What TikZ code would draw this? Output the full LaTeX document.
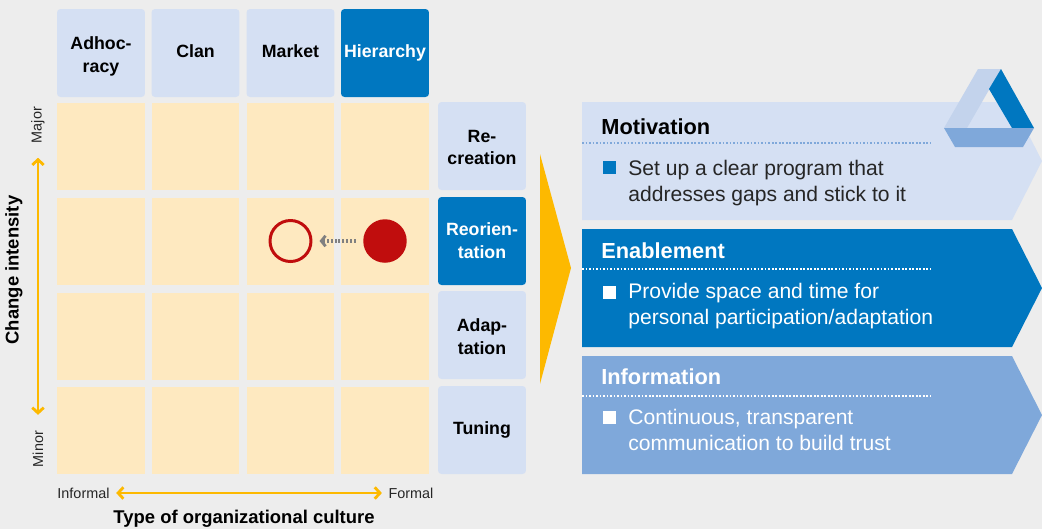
\documentclass[tikz,border=0pt]{standalone}
\usepackage{fontspec}
\setmainfont{Liberation Sans}
\usetikzlibrary{arrows.meta}

\definecolor{pagegray}{HTML}{EDEDED}
\definecolor{paleblue}{HTML}{D5E0F3}
\definecolor{midblue}{HTML}{7FA8DA}
\definecolor{darkblue}{HTML}{0077C0}
\definecolor{logoblue}{HTML}{C3D3EC}
\definecolor{cellyellow}{HTML}{FEE9C0}
\definecolor{axisyellow}{HTML}{FDB900}
\definecolor{markred}{HTML}{C00D0D}

\begin{document}
\begin{tikzpicture}[x=0.02cm, y=-0.02cm]
    \tikzstyle{cell}=[fill=cellyellow, minimum width=1.76cm, minimum height=1.74cm, inner sep=0pt]
    \tikzstyle{head}=[fill=paleblue, rounded corners=2pt, minimum width=1.76cm, minimum height=1.76cm, inner sep=0pt, align=center, font=\fontsize{10.1}{13}\selectfont\bfseries, text=black]
    \tikzstyle{headon}=[head, fill=darkblue, text=white]
    \tikzstyle{axistext}=[inner sep=0pt, font=\fontsize{8.2}{10}\selectfont, text=black!85]
    \tikzstyle{axistitle}=[inner sep=0pt, font=\fontsize{10.5}{13}\selectfont\bfseries, text=black]
    \tikzstyle{axis}=[axisyellow, line width=1.6pt, {Straight Barb[length=3pt, width=6.5pt, line width=1.6pt]}-{Straight Barb[length=3pt, width=6.5pt, line width=1.6pt]}]
    \tikzstyle{paneltitle}=[anchor=west, inner sep=0pt, font=\fontsize{12.4}{15}\selectfont\bfseries]
    \tikzstyle{paneltext}=[anchor=north west, inner sep=0pt, align=left, font=\fontsize{12}{14.8}\selectfont]
    \tikzstyle{bullet}=[minimum size=0.26cm, inner sep=0pt]
    \tikzstyle{rule}=[dash pattern=on 1pt off 1pt, line width=0.6pt]

    \fill[pagegray] (0,0) rectangle (1042,529);
    \useasboundingbox (0,0) rectangle (1042,529);

    % culture types
    \node[head] (adhocracy) at (101,53) {\rule{0pt}{10.8pt}Adhoc-\\racy};
    \node[head, text depth=2.3pt] (clan) at (195.5,53) {Clan};
    \node[head, text depth=2.3pt] (market) at (290.5,53) {Market};
    \node[headon] (hierarchy) at (385,53) {Hierarchy};

    % change types
    \node[head] (recreation) at (482,146) {\rule{0pt}{8.6pt}Re-\\creation};
    \node[headon] (reorientation) at (482,241) {Reorien-\\tation};
    \node[head] (adaptation) at (482,335) {\rule{0pt}{9pt}Adap-\\tation};
    \node[head] (tuning) at (482,430) {Tuning};

    % matrix
    \node[cell] (a1) at (101,146.5) {};
    \node[cell] (b1) at (195.5,146.5) {};
    \node[cell] (c1) at (290.5,146.5) {};
    \node[cell] (d1) at (385,146.5) {};
    \node[cell] (a2) at (101,241.5) {};
    \node[cell] (b2) at (195.5,241.5) {};
    \node[cell] (c2) at (290.5,241.5) {};
    \node[cell] (d2) at (385,241.5) {};
    \node[cell] (a3) at (101,336) {};
    \node[cell] (b3) at (195.5,336) {};
    \node[cell] (c3) at (290.5,336) {};
    \node[cell] (d3) at (385,336) {};
    \node[cell] (a4) at (101,430) {};
    \node[cell] (b4) at (195.5,430) {};
    \node[cell] (c4) at (290.5,430) {};
    \node[cell] (d4) at (385,430) {};

    % shift from now to target
    \node[circle, draw=markred, line width=1.7pt, fill=cellyellow, minimum size=0.82cm, inner sep=0pt] (target) at (290.5,241) {};
    \node[circle, fill=markred, minimum size=0.87cm, inner sep=0pt] (now) at (385,241) {};
    \draw[gray, line width=1.8pt, dash pattern=on 1.1pt off 1.1pt, shorten >=4pt, shorten <=4pt, -{Straight Barb[length=2.4pt, width=6pt, line width=1.6pt]}] (now) -- (target);

    % axes
    \node[axistext, rotate=90] (major) at (38,125) {Major};
    \node[axistext, rotate=90] (minor) at (38,449) {Minor};
    \node[axistext] (informal) at (83.5,493) {Informal};
    \node[axistext] (formal) at (411,493) {Formal};
    \draw[axis, shorten <=8.2pt, shorten >=9pt] (major) -- (minor);
    \draw[axis, shorten <=3.6pt, shorten >=3.6pt] (informal) -- (formal);
    \node[axistitle, rotate=90] (intensity) at (14,270) {Change intensity};
    \node[axistitle] (culture) at (244,519) {Type of organizational culture};

    % big arrow
    \fill[axisyellow] (540,154) -- (571,268) -- (540,384) -- cycle;

    % panels
    \fill[paleblue] (582,102) -- (1012,102) -- (1042,161) -- (1012,220) -- (582,220) -- cycle;
    \fill[darkblue] (582,229) -- (1012,229) -- (1042,288) -- (1012,347) -- (582,347) -- cycle;
    \fill[midblue] (582,356) -- (1012,356) -- (1042,415) -- (1012,474) -- (582,474) -- cycle;

    \node[paneltitle, text=black] (motivation) at (601,127) {Motivation};
    \draw[rule, midblue] (582,143) -- (930,143);
    \node[bullet, fill=darkblue] (bulleta) at (609,167) {};
    \node[paneltext, text=black!85] (motivationtext) at (628,160) {Set up a clear program that\\addresses gaps and stick to it};

    \node[paneltitle, text=white] (enablement) at (601,251) {Enablement};
    \draw[rule, white] (582,269) -- (930,269);
    \node[bullet, fill=white] (bulletb) at (609,292) {};
    \node[paneltext, text=white] (enablementtext) at (628,283) {Provide space and time for\\personal participation/adaptation};

    \node[paneltitle, text=white] (information) at (601,377) {Information};
    \draw[rule, white] (582,396) -- (930,396);
    \node[bullet, fill=white] (bulletc) at (609,417) {};
    \node[paneltext, text=white] (informationtext) at (628,409) {Continuous, transparent\\communication to build trust};

    % logo
    \fill[logoblue] (978,69) -- (1001,69) -- (967,128) -- (944,128) -- cycle;
    \fill[darkblue] (1001,69) -- (1034,128) -- (1012,128) -- (989,89) -- cycle;
    \fill[midblue] (944,128) -- (1034,128) -- (1023,147) -- (955,147) -- cycle;
\end{tikzpicture}
\end{document}
